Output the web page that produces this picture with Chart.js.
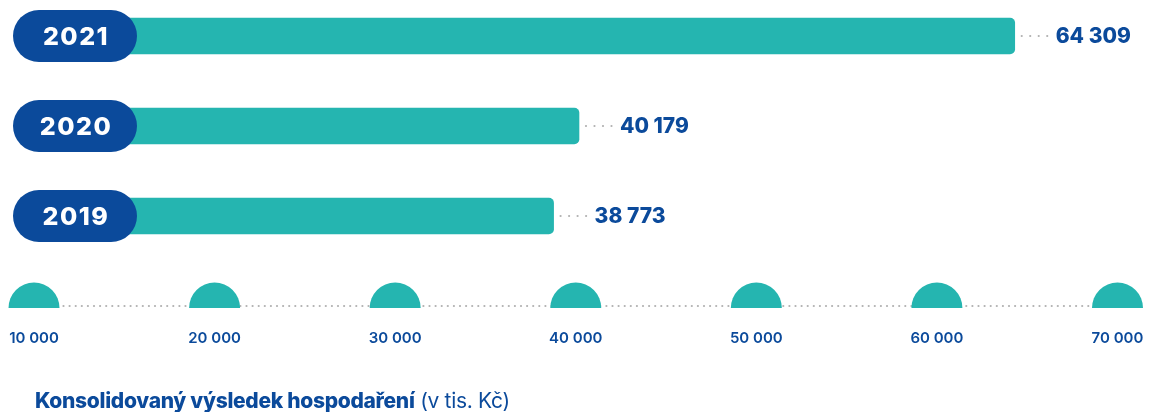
<!DOCTYPE html>
<html>
<head>
<meta charset="utf-8">
<script src="https://cdn.jsdelivr.net/npm/chart.js@4/dist/chart.umd.min.js"></script>
<style>
  html, body { margin: 0; padding: 0; background: #ffffff; }
  #wrap { position: relative; width: 1156px; height: 412px; overflow: hidden; }
  #title { position: absolute; left: 35px; top: 388px; font-family: 'Inter', sans-serif; font-size: 21px; color: #0b4a9b; white-space: nowrap; line-height: 26px; letter-spacing: -0.3px; }
  #title b { font-weight: 800; }
  #title span { font-weight: 400; }
</style>
</head>
<body>
<div id="wrap">
  <canvas id="c" width="1156" height="412"></canvas>
  <div id="title"><b>Konsolidovaný výsledek hospodaření</b> <span>(v tis. Kč)</span></div>
</div>
<script>
// ---- data ----
const years = ['2021', '2020', '2019'];
const values = [64309, 40179, 38773];
const valueLabels = ['64 309', '40 179', '38 773'];
const tickValues = [10000, 20000, 30000, 40000, 50000, 60000, 70000];
const tickLabels = ['10 000', '20 000', '30 000', '40 000', '50 000', '60 000', '70 000'];
const axisMin = 8117;
const axisMax = 72132;
const barBase = 12000;

const TEAL = '#25b5b0';
const BLUE = '#0b4a9b';
const GREY = '#b0b0b0';
const FONT = "'Inter', sans-serif";

function dots(ctx, x0, x1, y, step, r) {
  ctx.fillStyle = GREY;
  for (let x = x0; x <= x1; x += step) {
    ctx.beginPath();
    ctx.arc(x, y, r, 0, Math.PI * 2);
    ctx.fill();
  }
}

const decor = {
  id: 'decor',
  beforeDatasetsDraw(chart) {
    const ctx = chart.ctx;
    const xs = chart.scales.x;
    const baseY = 308;
    const R = 25.5;
    const px = tickValues.map(v => xs.getPixelForValue(v));
    ctx.save();
    dots(ctx, px[0] + R + 4, px[px.length - 1] - R - 2, baseY - 2, 6.1, 1.1);
    ctx.fillStyle = TEAL;
    px.forEach(x => {
      ctx.beginPath();
      ctx.arc(x, baseY, R, Math.PI, 0);
      ctx.closePath();
      ctx.fill();
    });
    ctx.restore();
  },
  afterDatasetsDraw(chart) {
    const ctx = chart.ctx;
    const meta = chart.getDatasetMeta(0);
    ctx.save();
    meta.data.forEach((bar, i) => {
      const y = bar.y;
      // year pill
      const pl = 13, pw = 124, ph = 52, pr = 26;
      ctx.fillStyle = BLUE;
      ctx.beginPath();
      ctx.roundRect(pl, y - ph / 2, pw, ph, pr);
      ctx.fill();
      ctx.fillStyle = '#ffffff';
      ctx.font = "800 25px " + FONT;
      ctx.letterSpacing = '1.5px';
      ctx.textAlign = 'center';
      ctx.textBaseline = 'middle';
      ctx.fillText(years[i], 76, y + 1);
      ctx.letterSpacing = '0px';
      // dotted leader + value
      const ex = bar.x;
      dots(ctx, ex + 7, ex + 33, y, 8.5, 1.1);
      ctx.fillStyle = BLUE;
      ctx.font = "800 21px " + FONT;
      ctx.textAlign = 'left';
      ctx.fillText(valueLabels[i], ex + 41, y + 1);
    });
    ctx.restore();
  }
};

new Chart(document.getElementById('c'), {
  type: 'bar',
  data: {
    labels: years,
    datasets: [{
      data: values,
      base: barBase,
      backgroundColor: TEAL,
      barThickness: 36,
      borderRadius: 5,
      borderSkipped: 'start',
      clip: false
    }]
  },
  options: {
    indexAxis: 'y',
    responsive: false,
    devicePixelRatio: 1,
    animation: false,
    layout: { padding: { top: 36, left: 0, right: 0, bottom: 0 } },
    plugins: { legend: { display: false }, tooltip: { enabled: false }, title: { display: false } },
    scales: {
      y: { type: 'category', offset: false, display: false },
      x: {
        type: 'linear',
        position: 'bottom',
        min: axisMin,
        max: axisMax,
        grid: { display: false, drawTicks: false },
        border: { display: false },
        afterBuildTicks: (s) => { s.ticks = tickValues.map(v => ({ value: v })); },
        afterFit: (s) => { s.height = 196; s.paddingLeft = 0; s.paddingRight = 0; },
        ticks: {
          autoSkip: false,
          maxRotation: 0,
          padding: 113,
          color: BLUE,
          font: { family: FONT, size: 15, weight: '600' },
          callback: (v, i) => tickLabels[i]
        }
      }
    }
  },
  plugins: [decor]
});
</script>
</body>
</html>
